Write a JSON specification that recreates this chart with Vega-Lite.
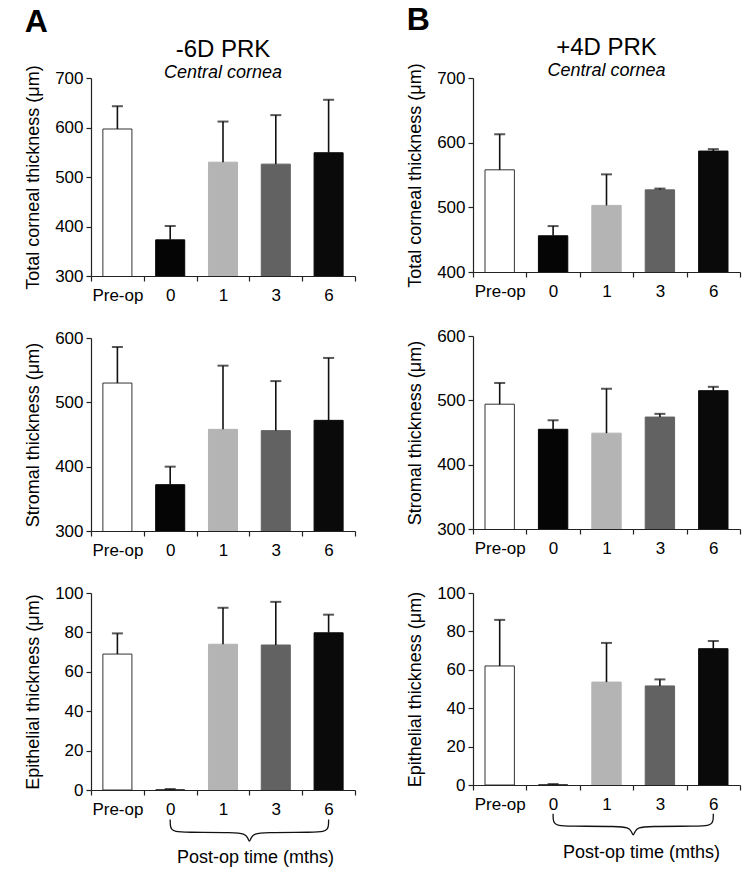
{
  "$schema": "https://vega.github.io/schema/vega-lite/v6.json",
  "background": "white",
  "padding": {"left": 24, "top": 3, "right": 5, "bottom": 5},
  "datasets": {
    "bars": [
      {"panel": "A1", "cat": "Pre-op", "value": 597, "err": 643},
      {"panel": "A1", "cat": "0", "value": 373, "err": 401},
      {"panel": "A1", "cat": "1", "value": 530, "err": 612},
      {"panel": "A1", "cat": "3", "value": 526, "err": 625},
      {"panel": "A1", "cat": "6", "value": 549, "err": 656},
      {"panel": "A2", "cat": "Pre-op", "value": 530, "err": 586},
      {"panel": "A2", "cat": "0", "value": 372, "err": 400},
      {"panel": "A2", "cat": "1", "value": 458, "err": 557},
      {"panel": "A2", "cat": "3", "value": 456, "err": 533},
      {"panel": "A2", "cat": "6", "value": 472, "err": 569},
      {"panel": "A3", "cat": "Pre-op", "value": 69, "err": 79.5},
      {"panel": "A3", "cat": "0", "value": 0, "err": 0.5},
      {"panel": "A3", "cat": "1", "value": 74, "err": 92.5},
      {"panel": "A3", "cat": "3", "value": 73.6, "err": 95.5},
      {"panel": "A3", "cat": "6", "value": 79.8, "err": 89},
      {"panel": "B1", "cat": "Pre-op", "value": 558, "err": 613},
      {"panel": "B1", "cat": "0", "value": 456, "err": 471},
      {"panel": "B1", "cat": "1", "value": 503, "err": 551},
      {"panel": "B1", "cat": "3", "value": 527, "err": 529},
      {"panel": "B1", "cat": "6", "value": 587, "err": 590},
      {"panel": "B2", "cat": "Pre-op", "value": 494, "err": 527},
      {"panel": "B2", "cat": "0", "value": 455, "err": 469},
      {"panel": "B2", "cat": "1", "value": 449, "err": 518},
      {"panel": "B2", "cat": "3", "value": 474, "err": 479},
      {"panel": "B2", "cat": "6", "value": 515, "err": 521},
      {"panel": "B3", "cat": "Pre-op", "value": 62, "err": 86},
      {"panel": "B3", "cat": "0", "value": 0, "err": 0.5},
      {"panel": "B3", "cat": "1", "value": 53.6, "err": 74},
      {"panel": "B3", "cat": "3", "value": 51.6, "err": 55},
      {"panel": "B3", "cat": "6", "value": 71, "err": 75}
    ],
    "brace": [
      {"i": 0, "bx": 1.5, "by": -15},
      {"i": 1, "bx": 1.5, "by": -18},
      {"i": 2, "bx": 1.52, "by": -20},
      {"i": 3, "bx": 1.6, "by": -21.2},
      {"i": 4, "bx": 1.75, "by": -21.5},
      {"i": 5, "bx": 2.75, "by": -21.5},
      {"i": 6, "bx": 2.9, "by": -22.2},
      {"i": 7, "bx": 2.97, "by": -24},
      {"i": 8, "bx": 3.0, "by": -27},
      {"i": 9, "bx": 3.03, "by": -24},
      {"i": 10, "bx": 3.1, "by": -22.2},
      {"i": 11, "bx": 3.25, "by": -21.5},
      {"i": 12, "bx": 4.25, "by": -21.5},
      {"i": 13, "bx": 4.4, "by": -21.2},
      {"i": 14, "bx": 4.48, "by": -20},
      {"i": 15, "bx": 4.5, "by": -18},
      {"i": 16, "bx": 4.5, "by": -15}
    ]
  },
  "data": {"name": "bars"},
  "hconcat": [
    {
      "title": {"text": "A", "anchor": "start", "fontSize": 32, "fontWeight": "bold", "offset": -1},
      "spacing": 62,
      "bounds": "flush",
      "vconcat": [
        {
          "width": 264, "height": 198,
          "title": {"text": "-6D PRK", "subtitle": "Central cornea", "offset": -17},
          "transform": [{"filter": "datum.panel === 'A1'"}],
          "encoding": {"x": {"field": "cat", "type": "nominal", "sort": ["Pre-op", "0", "1", "3", "6"], "scale": {"paddingInner": 0, "paddingOuter": 0}, "axis": {"title": null}}},
          "layer": [
            {"mark": {"type": "bar", "width": {"band": 0.55}, "clip": true, "strokeWidth": 1},
             "encoding": {
               "y": {"field": "value", "type": "quantitative", "scale": {"domain": [300, 700], "zero": false, "nice": false}, "axis": {"values": [300, 400, 500, 600, 700], "title": "Total corneal thickness (μm)"}},
               "fill": {"field": "cat", "type": "nominal", "legend": null, "scale": {"domain": ["Pre-op", "0", "1", "3", "6"], "range": ["#ffffff", "#050505", "#b4b4b4", "#626262", "#0a0a0a"]}},
               "stroke": {"field": "cat", "type": "nominal", "legend": null, "scale": {"domain": ["Pre-op", "0", "1", "3", "6"], "range": ["#333333", "#050505", "#b4b4b4", "#626262", "#0a0a0a"]}}
             }},
            {"mark": {"type": "rule", "strokeWidth": 1.6, "color": "#111"},
             "encoding": {"y": {"field": "value", "type": "quantitative"}, "y2": {"field": "err"}}},
            {"mark": {"type": "tick", "thickness": 2, "size": 11, "color": "#111"},
             "encoding": {"y": {"field": "err", "type": "quantitative"}}}
          ]
        },
        {
          "width": 264, "height": 193,
          "transform": [{"filter": "datum.panel === 'A2'"}],
          "encoding": {"x": {"field": "cat", "type": "nominal", "sort": ["Pre-op", "0", "1", "3", "6"], "scale": {"paddingInner": 0, "paddingOuter": 0}, "axis": {"title": null}}},
          "layer": [
            {"mark": {"type": "bar", "width": {"band": 0.55}, "clip": true, "strokeWidth": 1},
             "encoding": {
               "y": {"field": "value", "type": "quantitative", "scale": {"domain": [300, 600], "zero": false, "nice": false}, "axis": {"values": [300, 400, 500, 600], "title": "Stromal thickness (μm)"}},
               "fill": {"field": "cat", "type": "nominal", "legend": null, "scale": {"domain": ["Pre-op", "0", "1", "3", "6"], "range": ["#ffffff", "#050505", "#b4b4b4", "#626262", "#0a0a0a"]}},
               "stroke": {"field": "cat", "type": "nominal", "legend": null, "scale": {"domain": ["Pre-op", "0", "1", "3", "6"], "range": ["#333333", "#050505", "#b4b4b4", "#626262", "#0a0a0a"]}}
             }},
            {"mark": {"type": "rule", "strokeWidth": 1.6, "color": "#111"},
             "encoding": {"y": {"field": "value", "type": "quantitative"}, "y2": {"field": "err"}}},
            {"mark": {"type": "tick", "thickness": 2, "size": 11, "color": "#111"},
             "encoding": {"y": {"field": "err", "type": "quantitative"}}}
          ]
        },
        {
          "width": 264, "height": 197,
          "layer": [
            {"transform": [{"filter": "datum.panel === 'A3'"}],
             "mark": {"type": "bar", "width": {"band": 0.55}, "clip": true, "strokeWidth": 1},
             "encoding": {
               "x": {"field": "cat", "type": "nominal", "sort": ["Pre-op", "0", "1", "3", "6"], "scale": {"paddingInner": 0, "paddingOuter": 0}, "axis": {"title": "Post-op time (mths)", "titleX": 164, "titleY": 58}},
               "y": {"field": "value", "type": "quantitative", "scale": {"domain": [0, 100], "nice": false}, "axis": {"tickCount": 5, "labelOverlap": false, "labelSeparation": -30, "labelBound": false, "title": "Epithelial thickness (μm)"}},
               "fill": {"field": "cat", "type": "nominal", "legend": null, "scale": {"domain": ["Pre-op", "0", "1", "3", "6"], "range": ["#ffffff", "#050505", "#b4b4b4", "#626262", "#0a0a0a"]}},
               "stroke": {"field": "cat", "type": "nominal", "legend": null, "scale": {"domain": ["Pre-op", "0", "1", "3", "6"], "range": ["#333333", "#050505", "#b4b4b4", "#626262", "#0a0a0a"]}}
             }},
            {"transform": [{"filter": "datum.panel === 'A3'"}],
             "mark": {"type": "rule", "strokeWidth": 1.6, "color": "#111"},
             "encoding": {
               "x": {"field": "cat", "type": "nominal", "sort": ["Pre-op", "0", "1", "3", "6"], "scale": {"paddingInner": 0, "paddingOuter": 0}, "axis": null},
               "y": {"field": "value", "type": "quantitative"}, "y2": {"field": "err"}}},
            {"transform": [{"filter": "datum.panel === 'A3'"}],
             "mark": {"type": "tick", "thickness": 2, "size": 11, "color": "#111"},
             "encoding": {
               "x": {"field": "cat", "type": "nominal", "sort": ["Pre-op", "0", "1", "3", "6"], "scale": {"paddingInner": 0, "paddingOuter": 0}, "axis": null},
               "y": {"field": "err", "type": "quantitative"}}},
            {
              "data": {"name": "brace"},
              "mark": {"type": "line", "interpolate": "basis", "color": "#111", "strokeWidth": 1.3, "clip": false},
              "encoding": {
                "x": {"field": "bx", "type": "quantitative", "scale": {"domain": [0, 5], "nice": false, "zero": false}, "axis": null},
                "y": {"field": "by", "type": "quantitative"},
                "order": {"field": "i", "type": "quantitative"}
              }
            }
          ],
          "resolve": {"scale": {"x": "independent"}, "axis": {"x": "independent"}}
        }
      ]
    },
    {
      "title": {"text": "B", "anchor": "start", "fontSize": 32, "fontWeight": "bold", "offset": -1},
      "spacing": 64,
      "bounds": "flush",
      "vconcat": [
        {
          "width": 267, "height": 194,
          "title": {"text": "+4D PRK", "subtitle": "Central cornea", "offset": -17},
          "transform": [{"filter": "datum.panel === 'B1'"}],
          "encoding": {"x": {"field": "cat", "type": "nominal", "sort": ["Pre-op", "0", "1", "3", "6"], "scale": {"paddingInner": 0, "paddingOuter": 0}, "axis": {"title": null}}},
          "layer": [
            {"mark": {"type": "bar", "width": {"band": 0.55}, "clip": true, "strokeWidth": 1},
             "encoding": {
               "y": {"field": "value", "type": "quantitative", "scale": {"domain": [400, 700], "zero": false, "nice": false}, "axis": {"values": [400, 500, 600, 700], "title": "Total corneal thickness (μm)"}},
               "fill": {"field": "cat", "type": "nominal", "legend": null, "scale": {"domain": ["Pre-op", "0", "1", "3", "6"], "range": ["#ffffff", "#050505", "#b4b4b4", "#626262", "#0a0a0a"]}},
               "stroke": {"field": "cat", "type": "nominal", "legend": null, "scale": {"domain": ["Pre-op", "0", "1", "3", "6"], "range": ["#555555", "#050505", "#b4b4b4", "#626262", "#0a0a0a"]}}
             }},
            {"mark": {"type": "rule", "strokeWidth": 1.6, "color": "#111"},
             "encoding": {"y": {"field": "value", "type": "quantitative"}, "y2": {"field": "err"}}},
            {"mark": {"type": "tick", "thickness": 2, "size": 11, "color": "#111"},
             "encoding": {"y": {"field": "err", "type": "quantitative"}}}
          ]
        },
        {
          "width": 267, "height": 193,
          "transform": [{"filter": "datum.panel === 'B2'"}],
          "encoding": {"x": {"field": "cat", "type": "nominal", "sort": ["Pre-op", "0", "1", "3", "6"], "scale": {"paddingInner": 0, "paddingOuter": 0}, "axis": {"title": null}}},
          "layer": [
            {"mark": {"type": "bar", "width": {"band": 0.55}, "clip": true, "strokeWidth": 1},
             "encoding": {
               "y": {"field": "value", "type": "quantitative", "scale": {"domain": [300, 600], "zero": false, "nice": false}, "axis": {"values": [300, 400, 500, 600], "title": "Stromal thickness (μm)"}},
               "fill": {"field": "cat", "type": "nominal", "legend": null, "scale": {"domain": ["Pre-op", "0", "1", "3", "6"], "range": ["#ffffff", "#050505", "#b4b4b4", "#626262", "#0a0a0a"]}},
               "stroke": {"field": "cat", "type": "nominal", "legend": null, "scale": {"domain": ["Pre-op", "0", "1", "3", "6"], "range": ["#555555", "#050505", "#b4b4b4", "#626262", "#0a0a0a"]}}
             }},
            {"mark": {"type": "rule", "strokeWidth": 1.6, "color": "#111"},
             "encoding": {"y": {"field": "value", "type": "quantitative"}, "y2": {"field": "err"}}},
            {"mark": {"type": "tick", "thickness": 2, "size": 11, "color": "#111"},
             "encoding": {"y": {"field": "err", "type": "quantitative"}}}
          ]
        },
        {
          "width": 267, "height": 192,
          "layer": [
            {"transform": [{"filter": "datum.panel === 'B3'"}],
             "mark": {"type": "bar", "width": {"band": 0.55}, "clip": true, "strokeWidth": 1},
             "encoding": {
               "x": {"field": "cat", "type": "nominal", "sort": ["Pre-op", "0", "1", "3", "6"], "scale": {"paddingInner": 0, "paddingOuter": 0}, "axis": {"title": "Post-op time (mths)", "titleX": 168, "titleY": 58}},
               "y": {"field": "value", "type": "quantitative", "scale": {"domain": [0, 100], "nice": false}, "axis": {"tickCount": 5, "labelOverlap": false, "labelSeparation": -30, "labelBound": false, "title": "Epithelial thickness (μm)"}},
               "fill": {"field": "cat", "type": "nominal", "legend": null, "scale": {"domain": ["Pre-op", "0", "1", "3", "6"], "range": ["#ffffff", "#050505", "#b4b4b4", "#626262", "#0a0a0a"]}},
               "stroke": {"field": "cat", "type": "nominal", "legend": null, "scale": {"domain": ["Pre-op", "0", "1", "3", "6"], "range": ["#555555", "#050505", "#b4b4b4", "#626262", "#0a0a0a"]}}
             }},
            {"transform": [{"filter": "datum.panel === 'B3'"}],
             "mark": {"type": "rule", "strokeWidth": 1.6, "color": "#111"},
             "encoding": {
               "x": {"field": "cat", "type": "nominal", "sort": ["Pre-op", "0", "1", "3", "6"], "scale": {"paddingInner": 0, "paddingOuter": 0}, "axis": null},
               "y": {"field": "value", "type": "quantitative"}, "y2": {"field": "err"}}},
            {"transform": [{"filter": "datum.panel === 'B3'"}],
             "mark": {"type": "tick", "thickness": 2, "size": 11, "color": "#111"},
             "encoding": {
               "x": {"field": "cat", "type": "nominal", "sort": ["Pre-op", "0", "1", "3", "6"], "scale": {"paddingInner": 0, "paddingOuter": 0}, "axis": null},
               "y": {"field": "err", "type": "quantitative"}}},
            {
              "data": {"name": "brace"},
              "mark": {"type": "line", "interpolate": "basis", "color": "#111", "strokeWidth": 1.3, "clip": false},
              "encoding": {
                "x": {"field": "bx", "type": "quantitative", "scale": {"domain": [0, 5], "nice": false, "zero": false}, "axis": null},
                "y": {"field": "by", "type": "quantitative"},
                "order": {"field": "i", "type": "quantitative"}
              }
            }
          ],
          "resolve": {"scale": {"x": "independent"}, "axis": {"x": "independent"}}
        }
      ]
    }
  ],
  "spacing": 50,
  "config": {
    "font": "Liberation Sans",
    "view": {"stroke": null},
    "axis": {
      "grid": false,
      "domainColor": "#222",
      "tickColor": "#222",
      "domainWidth": 1.2,
      "tickWidth": 1.2,
      "tickSize": 5,
      "labelColor": "#000",
      "titleColor": "#000",
      "labelFont": "Liberation Sans",
      "titleFont": "Liberation Sans",
      "labelFontSize": 17,
      "titleFontSize": 18,
      "titleFontWeight": "normal"
    },
    "axisX": {"tickBand": "extent", "labelAngle": 0, "labelPadding": 6},
    "axisY": {"labelPadding": 3, "titlePadding": 12},
    "title": {
      "font": "Liberation Sans",
      "fontSize": 24,
      "fontWeight": "normal",
      "color": "#000",
      "subtitleFont": "Liberation Sans",
      "subtitleFontSize": 18,
      "subtitleFontStyle": "italic",
      "subtitleColor": "#000",
      "subtitlePadding": 2
    }
  }
}
